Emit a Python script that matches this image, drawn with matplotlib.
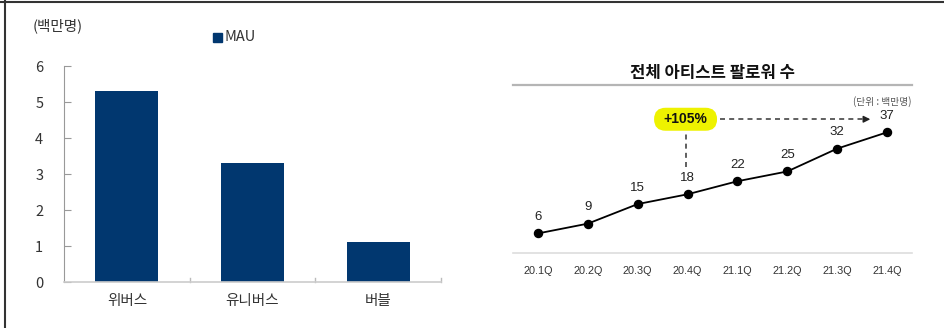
import matplotlib
matplotlib.use('Agg')
import matplotlib.pyplot as plt
import matplotlib.transforms as mtransforms
from matplotlib.lines import Line2D
from matplotlib.patches import FancyBboxPatch

plt.rcParams['font.family'] = ['Noto Sans CJK KR', 'DejaVu Sans']
num_font = ['Liberation Sans', 'DejaVu Sans']

# left chart: MAU (million)
platforms = ['위버스', '유니버스', '버블']
mau = [5.3, 3.3, 1.1]
mau_ticks = [0, 1, 2, 3, 4, 5, 6]

# right chart: total artist followers (million)
quarters = ['20.1Q', '20.2Q', '20.3Q', '20.4Q', '21.1Q', '21.2Q', '21.3Q', '21.4Q']
followers = [6, 9, 15, 18, 22, 25, 32, 37]
growth_label = '+105%'

navy = '#01376F'
W, H = 945, 328

fig = plt.figure(figsize=(W / 100, H / 100), dpi=100)

def px(x0, y0, x1, y1):
    # pixel box (top-left origin) -> figure fraction rect
    return [x0 / W, 1 - y1 / H, (x1 - x0) / W, (y1 - y0) / H]

# ---- left bar chart ----
ax = fig.add_axes(px(64, 66, 441, 282))
xs = range(len(platforms))
ax.bar(xs, mau, width=0.5, color=navy, zorder=2)
ax.set_xlim(-0.5, 2.5)
ax.set_ylim(0, 6)
ax.set_yticks(mau_ticks)
ax.set_yticklabels([str(t) for t in mau_ticks], fontsize=10.5, color='#333333')
ax.set_xticks(list(xs))
ax.set_xticklabels(platforms, fontsize=10.5, color='#333333')
ax.tick_params(axis='y', direction='in', length=5, color='#999999', pad=15)
ax.tick_params(axis='x', length=0, pad=9)
for b in [0.5, 1.5, 2.5]:
    ax.plot([b, b], [0, 0.1], color='#bbbbbb', lw=1, clip_on=False)
for s in ['top', 'right']:
    ax.spines[s].set_visible(False)
ax.spines['left'].set_color('#999999')
ax.spines['bottom'].set_color('#cccccc')
ax.spines['bottom'].set_linewidth(1.2)

fig.text(33 / W, 1 - 26 / H, '(백만명)', fontsize=10.5, color='#333333', va='center', ha='left')
fig.patches.append(plt.Rectangle((213 / W, 1 - 42 / H), 9 / W, 9 / H,
                                 transform=fig.transFigure, color=navy))
fig.text(225 / W, 1 - 37 / H, 'MAU', fontsize=10.5, color='#333333', va='center', ha='left')

# ---- right line chart ----
ax2 = fig.add_axes(px(513, 85, 912, 253))
xq = list(range(len(quarters)))
ax2.plot(xq, followers, color='black', lw=1.3, marker='o', markersize=5.8, zorder=3)
for x, v in zip(xq, followers):
    ax2.annotate(str(v), (x, v), xytext=(0, 7.5), textcoords='offset points',
                 ha='center', va='bottom', fontsize=9.5, color='#222222', family=num_font)
ax2.set_xlim(-0.5, 7.5)
ax2.set_ylim(0, 51.5)
ax2.set_yticks([])
ax2.set_xticks(xq)
ax2.set_xticklabels(quarters, fontsize=7.8, color='#333333', family=num_font)
ax2.tick_params(axis='x', length=0, pad=9)
for s in ['left', 'right']:
    ax2.spines[s].set_visible(False)
ax2.spines['top'].set_color('#b5b5b5')
ax2.spines['top'].set_linewidth(1.6)
ax2.spines['bottom'].set_color('#dddddd')
ax2.spines['bottom'].set_linewidth(1.2)

# growth callout
bx, by = 2.96, 41.0
anchor = fig.dpi_scale_trans + mtransforms.ScaledTranslation(bx, by, ax2.transData)
ax2.add_patch(FancyBboxPatch((-0.315, -0.115), 0.63, 0.23,
                             boxstyle='round,pad=0,rounding_size=0.115',
                             fc='#EEF200', ec='none', transform=anchor, zorder=4))
ax2.text(bx, by, growth_label, ha='center', va='center', fontsize=10, fontweight='bold',
         color='#111111', zorder=5, family=num_font)
ax2.plot([bx, bx], [26.5, 37.5], ls=(0, (3, 2.5)), color='#444444', lw=1.2)
ax2.plot([3.65, 6.55], [by, by], ls=(0, (3, 2.5)), color='#444444', lw=1.2)
ax2.annotate('', xy=(6.72, by), xytext=(6.5, by),
             arrowprops=dict(arrowstyle='-|>', color='#222222', lw=1, mutation_scale=10))

fig.text(713 / W, 1 - 73 / H, '전체 아티스트 팔로워 수', fontsize=12, fontweight='bold',
         ha='center', va='center', color='#111111')
fig.text(912 / W, 1 - 102 / H, '(단위 : 백만명)', fontsize=7, color='#555555',
         ha='right', va='center')

# outer frame lines
fig.add_artist(Line2D([0, 1], [1 - 1.5 / H, 1 - 1.5 / H], color='#333333', lw=1.5))
fig.add_artist(Line2D([5 / W, 5 / W], [0, 1], color='#333333', lw=1.5))

fig.savefig('out.png', dpi=100)
